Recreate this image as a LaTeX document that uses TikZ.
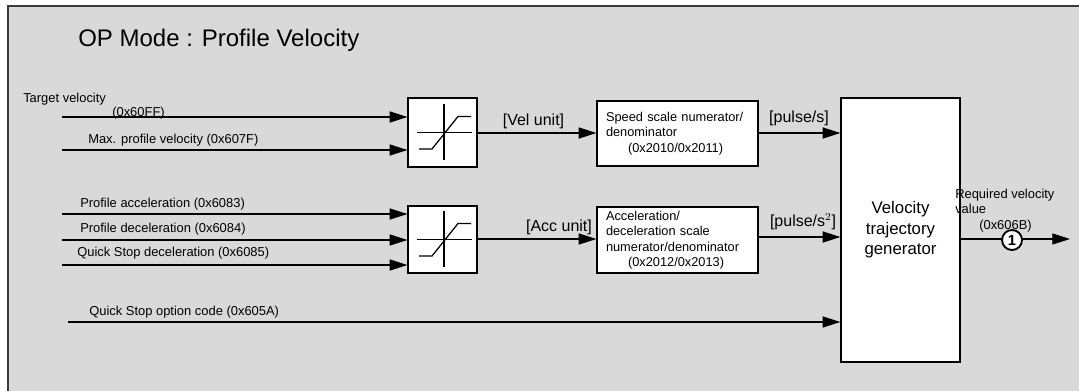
\documentclass[tikz,border=0pt]{standalone}
\usepackage{fontspec}
\setmainfont{Liberation Sans}
\usetikzlibrary{positioning, arrows.meta, calc}
\definecolor{panel}{HTML}{D9D9D9}
\definecolor{rim}{HTML}{3A3A3A}

\tikzset{
  sig/.style={-{Triangle[length=13.3pt,width=8.3pt]}, line width=0.9pt},
  blk/.style={draw, line width=0.9pt, fill=white, inner sep=0pt},
  lbl/.style={font=\fontsize{9.7}{11.6}\selectfont, inner sep=0pt, anchor=west},
  unitlbl/.style={font=\fontsize{12}{14}\selectfont, inner sep=0pt},
  boxtxt/.style={font=\fontsize{9.6}{11.6}\selectfont, align=left},
}
\newcommand\limglyph[1]{%
  \begin{scope}[shift={(#1)}, line width=0.9pt]
    \draw (1.5,-29) -- (1.5,27);
    \draw (-25.5,0) -- (29.5,0);
    \draw (-23.5,16.5) -- (-10.5,16.5) -- (15.5,-16) -- (28.5,-16);
  \end{scope}}

\begin{document}
\begin{tikzpicture}[x=0.75pt, y=-0.75pt]
        \clip (0,0) rectangle (1079,390);
        \fill[white] (0,0) rectangle (1079,390);
        \draw[rim, fill=panel, line width=1.5pt] (8,6) rectangle (1100,410);
        \node[anchor=west, inner sep=0pt, font=\fontsize{18}{20}\selectfont] (title) at (78,40) {OP Mode : Profile Velocity};

        % limiters
        \node[blk, minimum width=69*0.75pt, minimum height=69*0.75pt] (lim1) at (442.5,132.5) {};
        \node[blk, minimum width=69*0.75pt, minimum height=67*0.75pt] (lim2) at (442.5,239.5) {};
        \limglyph{lim1.center}
        \limglyph{lim2.center}

        % scaling blocks
        \node[blk, boxtxt, minimum width=161*0.75pt, minimum height=65*0.75pt, text width=143*0.75pt] (speed) at (677.5,133.5)
          {Speed scale numerator/\\denominator\\\hspace*{16.5pt}(0x2010/0x2011)};
        \node[blk, boxtxt, minimum width=161*0.75pt, minimum height=66*0.75pt, text width=143*0.75pt] (accel) at (677.5,240)
          {Acceleration/\\deceleration scale\\numerator/denominator\\\hspace*{16.5pt}(0x2012/0x2013)};
        \node[blk, minimum width=119*0.75pt, minimum height=264*0.75pt, align=center,
              font=\fontsize{12.6}{15.4}\selectfont] (traj) at (900.5,230)
          {Velocity\\trajectory\\generator};

        % inputs
        \coordinate (tv) at (62,117);
        \coordinate (mpv) at (62,150);
        \coordinate (pacc) at (62,214);
        \coordinate (pdec) at (62,240);
        \coordinate (qsdec) at (62,265);
        \coordinate (qsopt) at (68,322);
        \draw[sig] (tv) -- (tv -| lim1.west);
        \draw[sig] (mpv) -- (mpv -| lim1.west);
        \draw[sig] (pacc) -- (pacc -| lim2.west);
        \draw[sig] (pdec) -- (pdec -| lim2.west);
        \draw[sig] (qsdec) -- (qsdec -| lim2.west);
        \draw[sig] (qsopt) -- (qsopt -| traj.west);

        \node[lbl] (tvlbl) at (23,99) {Target velocity};
        \node[lbl] (tvidx) at (112,113) {(0x60FF)};
        \node[lbl] (mpvlbl) at (88,140) {Max. profile velocity (0x607F)};
        \node[lbl] (pacclbl) at (80,204) {Profile acceleration (0x6083)};
        \node[lbl] (pdeclbl) at (80,229) {Profile deceleration (0x6084)};
        \node[lbl] (qsdeclbl) at (77,253) {Quick Stop deceleration (0x6085)};
        \node[lbl] (qsoptlbl) at (89,312) {Quick Stop option code (0x605A)};

        % between blocks
        \draw[sig] (lim1.east |- 0,133) -- (speed.west |- 0,133);
        \draw[sig] (lim2.east |- 0,239) -- (accel.west |- 0,239);
        \draw[sig] (speed.east |- 0,133) -- (traj.west |- 0,133);
        \draw[sig] (accel.east |- 0,237) -- (traj.west |- 0,237);
        \node[unitlbl] (velu) at (533.5,121) {[Vel unit]};
        \node[unitlbl] (accu) at (559,227) {[Acc unit]};
        \node[unitlbl] (pls) at (799,118) {[pulse/s]};
        \node[unitlbl] (pls2) at (803,222) {[pulse/s$^{2}$]};

        % output
        \coordinate (out) at (1070,239);
        \draw[sig] (out -| traj.east) -- (out);
        \node[circle, draw, line width=1.4pt, fill=white, inner sep=0pt, minimum size=20*0.75pt,
              font=\fontsize{11}{11}\selectfont\bfseries] (mark) at (1012,240) {1};
        \node[lbl, anchor=north west, align=left, font=\fontsize{9.7}{11.4}\selectfont] (reqlbl) at (955,189)
          {Required velocity\\value\\\hspace*{18pt}(0x606B)};
\end{tikzpicture}
\end{document}
